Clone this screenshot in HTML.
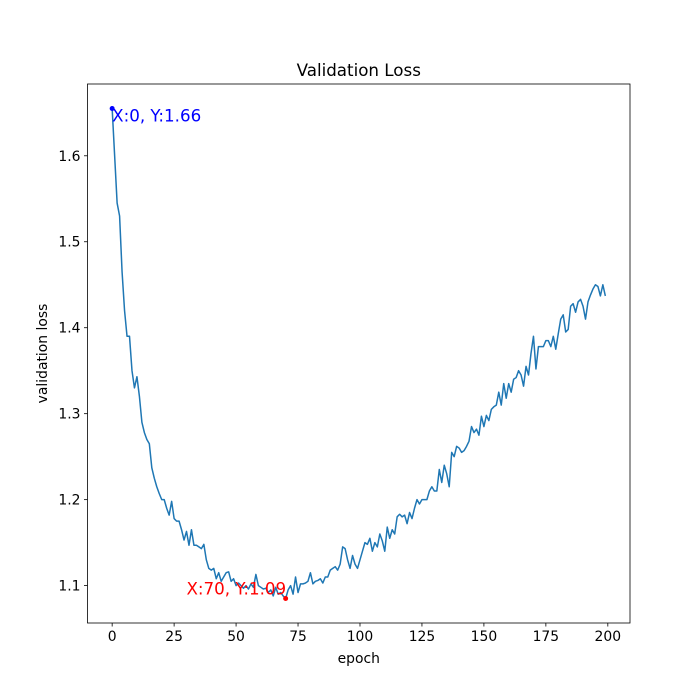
<!DOCTYPE html>
<html><head><meta charset="utf-8"><style>
body{margin:0;background:#fff}
svg{display:block;font-family:"DejaVu Sans","Liberation Sans",sans-serif}
</style></head><body>
<svg id="chart" width="700" height="700">
<rect width="700" height="700" fill="#fff"/>
<g id="plot"></g>
</svg>
<script>
const epochs = Array.from({length:200},(_,i)=>i);
const lossValues = [
1.655,1.600,1.545,1.530,1.465,1.420,1.390,1.390,1.350,1.330,
1.343,1.320,1.290,1.278,1.270,1.265,1.237,1.225,1.215,1.207,
1.200,1.200,1.190,1.182,1.198,1.178,1.175,1.175,1.165,1.153,
1.163,1.147,1.165,1.147,1.147,1.145,1.143,1.148,1.130,1.120,
1.118,1.120,1.108,1.115,1.105,1.110,1.115,1.116,1.105,1.108,
1.100,1.103,1.100,1.097,1.100,1.096,1.102,1.098,1.113,1.100,
1.098,1.096,1.097,1.092,1.095,1.088,1.098,1.090,1.092,1.088,
1.085,1.095,1.100,1.090,1.110,1.092,1.102,1.102,1.103,1.105,
1.115,1.102,1.105,1.106,1.108,1.103,1.110,1.110,1.118,1.120,
1.122,1.118,1.125,1.145,1.143,1.130,1.120,1.135,1.125,1.120,
1.130,1.140,1.150,1.148,1.155,1.140,1.150,1.145,1.160,1.152,
1.140,1.168,1.155,1.165,1.160,1.180,1.183,1.180,1.182,1.172,
1.185,1.178,1.190,1.200,1.195,1.200,1.200,1.200,1.210,1.215,
1.210,1.210,1.235,1.220,1.240,1.230,1.215,1.255,1.250,1.262,
1.260,1.255,1.257,1.262,1.268,1.285,1.278,1.282,1.275,1.297,
1.285,1.298,1.292,1.305,1.308,1.310,1.325,1.310,1.335,1.318,
1.335,1.325,1.340,1.342,1.350,1.345,1.332,1.355,1.345,1.370,
1.390,1.352,1.378,1.378,1.378,1.385,1.385,1.378,1.390,1.375,
1.393,1.410,1.415,1.395,1.398,1.425,1.428,1.418,1.430,1.433,
1.425,1.410,1.430,1.438,1.445,1.450,1.448,1.437,1.450,1.437];
const xTicks = [0,25,50,75,100,125,150,175,200];
const yTicks = [1.1,1.2,1.3,1.4,1.5,1.6];
const minPoint = [70,1.085];
const startPoint = [0,1.655];

const L=87.5,R=630,T=84,B=623;
const xMin=-9.95,xMax=208.95,yMin=1.0565,yMax=1.6835;
const sx=v=>L+(v-xMin)/(xMax-xMin)*(R-L);
const sy=v=>B-(v-yMin)/(yMax-yMin)*(B-T);
const NS='http://www.w3.org/2000/svg';
const g=document.getElementById('plot');
function mk(tag,attrs,txt){const e=document.createElementNS(NS,tag);for(const k in attrs)e.setAttribute(k,attrs[k]);if(txt!=null)e.textContent=txt;g.appendChild(e);return e;}

xTicks.forEach(t=>{
  const tk=mk('line',{x1:sx(t),x2:sx(t),y1:B,y2:B+3.5,stroke:'#000','stroke-width':0.8});
  
  
  const lb=mk('text',{x:sx(t),y:B+18,'text-anchor':'middle','font-size':13.9},String(t));
  
  
});
yTicks.forEach(t=>{
  const tk=mk('line',{x1:L-3.5,x2:L,y1:sy(t),y2:sy(t),stroke:'#000','stroke-width':0.8});
  
  
  const lb=mk('text',{x:L-7,y:sy(t)+5,'text-anchor':'end','font-size':13.9},t.toFixed(1));
  
  
});

const pts=epochs.map((e,i)=>sx(e).toFixed(2)+','+sy(lossValues[i]).toFixed(2)).join(' ');
const line=mk('polyline',{points:pts,fill:'none',stroke:'#1f77b4','stroke-width':1.5,'stroke-linejoin':'round'});



const d1=mk('circle',{cx:sx(startPoint[0]),cy:sy(startPoint[1]),r:2.5,fill:'blue'});


const t1=mk('text',{x:sx(startPoint[0]),y:sy(startPoint[1])+13,fill:'blue','font-size':16.7},'X:0, Y:1.66');


const d2=mk('circle',{cx:sx(minPoint[0]),cy:sy(minPoint[1]),r:2.5,fill:'red'});


const t2=mk('text',{x:sx(30),y:sy(minPoint[1])-4,fill:'red','font-size':16.7},'X:70, Y:1.09');



const fr=mk('rect',{x:L,y:T,width:R-L,height:B-T,fill:'none',stroke:'#000','stroke-width':0.8});


const ti=mk('text',{x:(L+R)/2,y:T-8,'text-anchor':'middle','font-size':16.7},'Validation Loss');


const xl=mk('text',{x:(L+R)/2,y:663,'text-anchor':'middle','font-size':13.9},'epoch');


const yl=mk('text',{x:0,y:0,'text-anchor':'middle','font-size':13.9,transform:'translate(47,'+((T+B)/2)+') rotate(-90)'},'validation loss');


</script>
</body></html>
